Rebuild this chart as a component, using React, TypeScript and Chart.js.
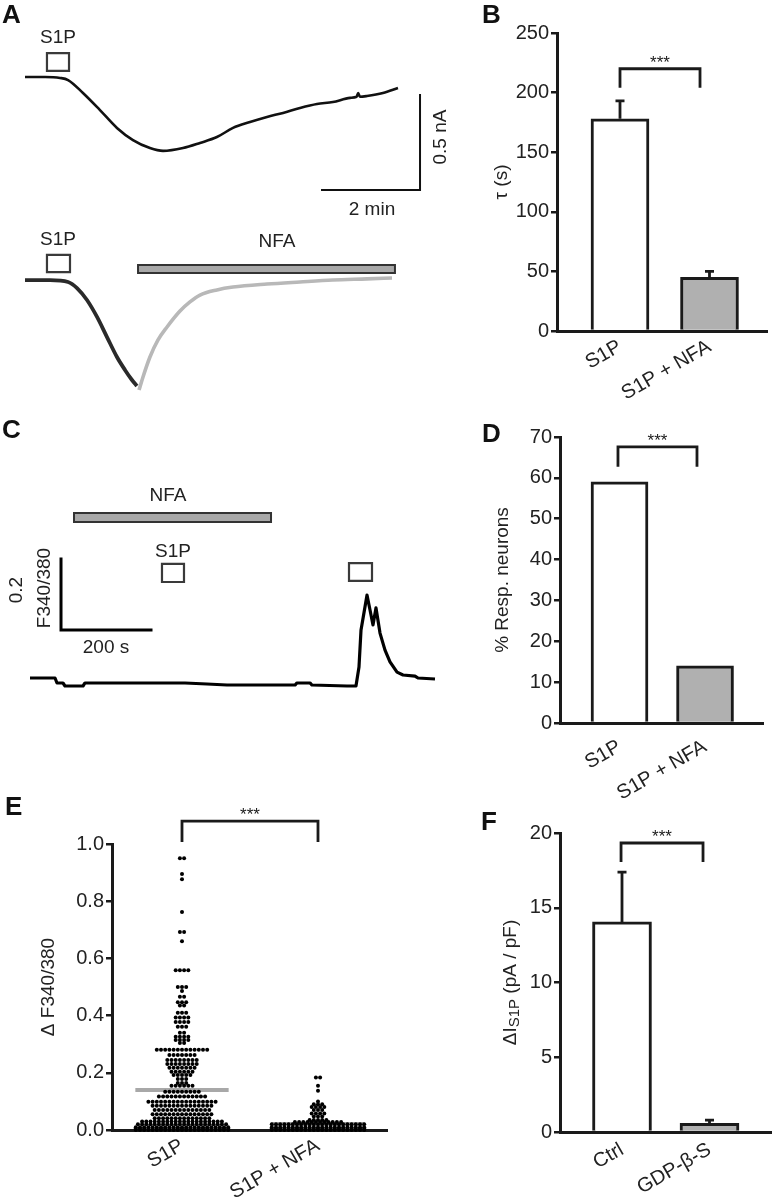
import React, { useEffect, useRef } from 'react';
import { Chart, registerables } from 'chart.js';

Chart.register(...registerables);

const FONT = '"Liberation Sans", Arial, Helvetica, sans-serif';
const INK = '#1a1a1a';
const TEXT = '#222222';
const GREY_FILL = '#b0b0b0';

// ---------------- Panel A : current traces (time s, current nA) ----------------
const aTopTime = [0, 24.5, 42.9, 52.7, 71, 91.8, 112.6, 132.2, 153, 169, 193.5, 214.3, 235, 254.7, 275.5, 296.3, 316, 336.7, 357.5, 377, 398, 406, 408, 410, 418.8, 438.3, 456.7];
const aTopCurrent = [0, 0, -0.005, -0.016, -0.084, -0.174, -0.268, -0.332, -0.374, -0.389, -0.374, -0.347, -0.316, -0.268, -0.237, -0.21, -0.189, -0.163, -0.142, -0.132, -0.11, -0.104, -0.085, -0.104, -0.1, -0.084, -0.058];
const aCtrlTime = [0, 30.6, 52.7, 63.7, 75.9, 88.2, 100.4, 112.6, 122.4, 131, 137.1];
const aCtrlCurrent = [0.005, 0.005, -0.005, -0.037, -0.1, -0.189, -0.295, -0.4, -0.468, -0.521, -0.553];
const aNfaTime = [139.6, 144.5, 153, 162.9, 173.9, 189.8, 202, 214.3, 235, 254.7, 296.3, 336.7, 377, 418.8, 449.4];
const aNfaCurrent = [-0.574, -0.505, -0.4, -0.31, -0.242, -0.158, -0.11, -0.074, -0.047, -0.032, -0.016, -0.005, 0.005, 0.011, 0.016];

// ---------------- Panel B : decay time constant ----------------
const bCategories = ['S1P', 'S1P + NFA'];
const bTau = [178, 45];
const bSem = [15, 5];

// ---------------- Panel C : Fura-2 ratio trace (time s, ratio change) ----------------
const cTime = [0, 55.6, 60, 73.3, 77.8, 117.8, 122.2, 200, 344.4, 393.3, 437.8, 588.9, 593.3, 622.2, 626.7, 704.4, 724.4, 731.1, 735.6, 748.9, 755.6, 762.2, 768.9, 777.8, 788.9, 800, 815.6, 828.9, 855.6, 862.2, 900];
const cRatio = [0.0225, 0.0225, 0.0085, 0.0085, 0, 0, 0.0085, 0.0085, 0.0085, 0.0056, 0.0028, 0.0028, 0.0085, 0.0085, 0.0028, 0, 0, 0.0535, 0.158, 0.256, 0.214, 0.172, 0.22, 0.149, 0.101, 0.068, 0.039, 0.031, 0.028, 0.0225, 0.0197];

// ---------------- Panel D : responding neurons ----------------
const dCategories = ['S1P', 'S1P + NFA'];
const dPercent = [59, 14];

// ---------------- Panel E : individual responses (value level, number of cells) ----------------
const eCategories = ['S1P', 'S1P + NFA'];
const eS1pLevels = [0.95, 0.895, 0.877, 0.762, 0.692, 0.66, 0.559, 0.5, 0.486, 0.466, 0.447, 0.435, 0.41, 0.393, 0.378, 0.361, 0.34, 0.326, 0.315, 0.304, 0.281, 0.262, 0.245, 0.231, 0.218, 0.204, 0.192, 0.178, 0.164, 0.155, 0.134, 0.117, 0.099, 0.085, 0.07, 0.055, 0.041, 0.03, 0.02, 0.01, 0.005, 0];
const eS1pCounts = [2, 1, 1, 1, 2, 1, 4, 3, 1, 2, 3, 2, 3, 4, 4, 3, 2, 4, 4, 2, 13, 7, 8, 8, 7, 6, 5, 3, 3, 6, 9, 12, 17, 15, 14, 15, 14, 20, 22, 23, 23, 23];
const eNfaLevels = [0.184, 0.155, 0.137, 0.1, 0.09, 0.08, 0.07, 0.058, 0.047, 0.035, 0.028, 0.02, 0.01, 0.005, 0];
const eNfaCounts = [2, 1, 1, 1, 3, 4, 3, 4, 3, 5, 12, 23, 23, 23, 23];
const eMeans = [0.14, 0.021];

// ---------------- Panel F : S1P current density ----------------
const fCategories = ['Ctrl', 'GDP-\u03B2-S'];
const fCurrent = [14.05, 0.58];
const fSem = [3.33, 0.22];

// ======================================================================
type Item =
  | { k: 'rect'; x: number[]; y: number[]; fill?: string; stroke: string; lw: number }
  | { k: 'path'; x: number[]; y: number[]; stroke: string; lw: number }
  | { k: 'text'; x: number; y: number; text: string; size: number; rot?: number };

function drawText(ctx: any, text: string, x: number, y: number, size: number, rot = 0, color = TEXT) {
  ctx.save();
  ctx.translate(x, y);
  if (rot) ctx.rotate((rot * Math.PI) / 180);
  ctx.font = `${size}px ${FONT}`;
  ctx.fillStyle = color;
  ctx.textAlign = 'center';
  ctx.textBaseline = 'middle';
  ctx.fillText(text, 0, 0);
  ctx.restore();
}

function marksPlugin(items: Item[]) {
  return {
    id: 'marks',
    afterDatasetsDraw(chart: any) {
      const { ctx } = chart;
      const sx = chart.scales.x;
      const sy = chart.scales.y;
      ctx.save();
      for (const it of items) {
        if (it.k === 'rect') {
          const x0 = sx.getPixelForValue(it.x[0]);
          const x1 = sx.getPixelForValue(it.x[1]);
          const y0 = sy.getPixelForValue(it.y[0]);
          const y1 = sy.getPixelForValue(it.y[1]);
          ctx.beginPath();
          ctx.rect(Math.min(x0, x1), Math.min(y0, y1), Math.abs(x1 - x0), Math.abs(y1 - y0));
          if (it.fill) {
            ctx.fillStyle = it.fill;
            ctx.fill();
          }
          ctx.lineWidth = it.lw;
          ctx.strokeStyle = it.stroke;
          ctx.stroke();
        } else if (it.k === 'path') {
          ctx.beginPath();
          it.x.forEach((v, i) => {
            const px = sx.getPixelForValue(v);
            const py = sy.getPixelForValue(it.y[i]);
            if (i === 0) ctx.moveTo(px, py);
            else ctx.lineTo(px, py);
          });
          ctx.lineWidth = it.lw;
          ctx.strokeStyle = it.stroke;
          ctx.lineCap = 'square';
          ctx.stroke();
        } else {
          drawText(ctx, it.text, sx.getPixelForValue(it.x), sy.getPixelForValue(it.y), it.size, it.rot || 0);
        }
      }
      ctx.restore();
    },
  };
}

const pts = (xs: number[], ys: number[]) => xs.map((x, i) => ({ x, y: ys[i] }));

function traceDataset(xs: number[], ys: number[], color: string, width: number, smooth: boolean) {
  return {
    data: pts(xs, ys),
    showLine: true,
    borderColor: color,
    borderWidth: width,
    pointRadius: 0,
    tension: 0,
    cubicInterpolationMode: smooth ? 'monotone' : 'default',
    borderJoinStyle: 'round',
    clip: false,
  };
}

function traceConfig(datasets: any[], xr: number[], yr: number[], items: Item[]) {
  return {
    type: 'scatter',
    data: { datasets },
    options: {
      responsive: false,
      animation: false,
      events: [],
      layout: { padding: 0 },
      plugins: { legend: { display: false }, tooltip: { enabled: false } },
      scales: {
        x: { type: 'linear', display: false, min: xr[0], max: xr[1], bounds: 'data' },
        y: { type: 'linear', display: false, min: yr[0], max: yr[1], bounds: 'data' },
      },
    },
    plugins: [marksPlugin(items)],
  };
}

function yAxis(min: number, max: number, step: number, width: number, title: string | null, titlePad: number, fmt?: (v: number) => string) {
  const ticks: any = { stepSize: step, font: { family: FONT, size: 20 }, color: TEXT, padding: 2 };
  if (fmt) ticks.callback = (v: any) => fmt(Number(v));
  return {
    type: 'linear',
    min,
    max,
    bounds: 'data',
    ticks,
    grid: { display: true, drawOnChartArea: false, drawTicks: true, tickLength: 6, color: INK, lineWidth: 2.5 },
    border: { display: true, color: INK, width: 3 },
    title: title
      ? { display: true, text: title, font: { family: FONT, size: 19 }, color: TEXT, padding: { top: titlePad, bottom: 0 } }
      : { display: false },
    afterFit: (s: any) => {
      s.width = width;
      s.paddingTop = 0;
      s.paddingBottom = 0;
    },
  };
}

function xAxis(min: number, max: number, cats: string[], height: number, pad: number) {
  return {
    type: 'linear',
    min,
    max,
    bounds: 'data',
    offset: false,
    afterBuildTicks: (s: any) => {
      s.ticks = cats.map((_, i) => ({ value: i }));
    },
    ticks: {
      callback: (v: any) => cats[Number(v)] ?? '',
      minRotation: 30,
      maxRotation: 30,
      autoSkip: false,
      font: { family: FONT, size: 20 },
      color: TEXT,
      padding: pad,
    },
    grid: { display: true, drawOnChartArea: false, drawTicks: false, color: 'rgba(0,0,0,0)', offset: false },
    border: { display: true, color: INK, width: 3 },
    afterFit: (s: any) => {
      s.height = height;
      s.paddingLeft = 0;
      s.paddingRight = 0;
    },
  };
}

function statPlugin(means: number[], sems: number[] | null, bracketX: number[], bracketY: number[]) {
  return {
    id: 'stats',
    afterDatasetsDraw(chart: any) {
      const { ctx } = chart;
      const sx = chart.scales.x;
      const sy = chart.scales.y;
      ctx.save();
      ctx.strokeStyle = INK;
      ctx.lineWidth = 2.8;
      if (sems) {
        sems.forEach((s, i) => {
          const px = sx.getPixelForValue(i);
          const y0 = sy.getPixelForValue(means[i]);
          const y1 = sy.getPixelForValue(means[i] + s);
          ctx.beginPath();
          ctx.moveTo(px, y0);
          ctx.lineTo(px, y1);
          ctx.moveTo(px - 4.5, y1);
          ctx.lineTo(px + 4.5, y1);
          ctx.stroke();
        });
      }
      const bx0 = sx.getPixelForValue(bracketX[0]);
      const bx1 = sx.getPixelForValue(bracketX[1]);
      const byLow = sy.getPixelForValue(bracketY[0]);
      const byTop = sy.getPixelForValue(bracketY[1]);
      ctx.beginPath();
      ctx.moveTo(bx0, byLow);
      ctx.lineTo(bx0, byTop);
      ctx.lineTo(bx1, byTop);
      ctx.lineTo(bx1, byLow);
      ctx.stroke();
      ctx.fillStyle = INK;
      ctx.font = `17px ${FONT}`;
      ctx.textAlign = 'center';
      ctx.textBaseline = 'alphabetic';
      ctx.fillText('***', (bx0 + bx1) / 2, byTop - 1);
      ctx.restore();
    },
  };
}

function barConfig(o: any) {
  return {
    type: 'bar',
    data: {
      datasets: [
        {
          data: o.values.map((v: number, i: number) => ({ x: i, y: v })),
          backgroundColor: ['#ffffff', GREY_FILL],
          borderColor: INK,
          borderWidth: 3,
          borderSkipped: 'start',
          barThickness: o.barW,
        },
      ],
    },
    options: {
      responsive: false,
      animation: false,
      events: [],
      layout: { padding: o.pad },
      plugins: { legend: { display: false }, tooltip: { enabled: false } },
      scales: {
        x: xAxis(o.xr[0], o.xr[1], o.cats, o.xH, o.labelPad),
        y: yAxis(o.yr[0], o.yr[1], o.step, o.yW, o.title, o.titlePad),
      },
    },
    plugins: [statPlugin(o.values, o.sems, o.bracketX, o.bracketY), ...(o.extra || [])],
  };
}

// beeswarm layout: each value level becomes a centred row of dots
const DOT_STEP = 4.2 / 136;
function swarm(center: number, levels: number[], counts: number[]) {
  const out: { x: number; y: number }[] = [];
  levels.forEach((lv, i) => {
    const n = counts[i];
    for (let j = 0; j < n; j++) out.push({ x: center + (j - (n - 1) / 2) * DOT_STEP, y: lv });
  });
  return out;
}

function swarmConfig() {
  const half = 0.343;
  return {
    type: 'scatter',
    data: {
      datasets: [
        { data: swarm(0, eS1pLevels, eS1pCounts), pointRadius: 2, backgroundColor: '#000', borderWidth: 0, clip: false },
        { data: swarm(1, eNfaLevels, eNfaCounts), pointRadius: 2, backgroundColor: '#000', borderWidth: 0, clip: false },
        ...eMeans.map((m, i) => ({
          data: [
            { x: i - half, y: m },
            { x: i + half, y: m },
          ],
          showLine: true,
          borderColor: '#a8a8a8',
          borderWidth: 4,
          pointRadius: 0,
          clip: false,
        })),
      ],
    },
    options: {
      responsive: false,
      animation: false,
      events: [],
      layout: { padding: { top: 54, right: 33, left: 0, bottom: 0 } },
      plugins: { legend: { display: false }, tooltip: { enabled: false } },
      scales: {
        x: xAxis(-0.5147, 1.5074, eCategories, 70, 4),
        y: yAxis(0, 1, 0.2, 112, '\u0394 F340/380', 37.6, (v) => v.toFixed(1)),
      },
    },
    plugins: [statPlugin(eMeans, null, [0, 1], [1.007, 1.08])],
  };
}

// custom y title with subscript for panel F
const fTitlePlugin = {
  id: 'fTitle',
  afterDraw(chart: any) {
    const { ctx, chartArea } = chart;
    const cy = (chartArea.top + chartArea.bottom) / 2;
    const cx = 91;
    const segs = [
      { t: '\u0394I', s: 19, dy: 0 },
      { t: 'S1P', s: 15, dy: 4 },
      { t: ' (pA / pF)', s: 19, dy: 0 },
    ];
    ctx.save();
    ctx.translate(cx, cy);
    ctx.rotate(-Math.PI / 2);
    ctx.fillStyle = TEXT;
    ctx.textBaseline = 'middle';
    ctx.textAlign = 'left';
    let total = 0;
    const widths = segs.map((g) => {
      ctx.font = `${g.s}px ${FONT}`;
      const w = ctx.measureText(g.t).width;
      total += w;
      return w;
    });
    let x = -total / 2;
    segs.forEach((g, i) => {
      ctx.font = `${g.s}px ${FONT}`;
      ctx.fillText(g.t, x, g.dy);
      x += widths[i];
    });
    ctx.restore();
  },
};

// ======================================================================
function ChartBox({ box, make }: { box: number[]; make: () => any }) {
  const ref = useRef<HTMLCanvasElement>(null);
  useEffect(() => {
    const chart = new Chart(ref.current as HTMLCanvasElement, make());
    return () => chart.destroy();
  }, []);
  const [l, t, w, h] = box;
  return (
    <canvas
      ref={ref}
      width={w}
      height={h}
      style={{ position: 'absolute', left: l, top: t, width: w, height: h }}
    />
  );
}

const A_X: number[] = [-30.61, 532.65];

const makeA1 = () =>
  traceConfig(
    [traceDataset(aTopTime, aTopCurrent, '#111', 2.6, true)],
    A_X,
    [-0.75263, 0.40526],
    [
      { k: 'text', x: 40.4, y: 0.205, text: 'S1P', size: 19 },
      { k: 'rect', x: [26.9, 53.9], y: [0.032, 0.126], stroke: '#3a3a3a', lw: 2.2 },
      { k: 'path', x: [363.7, 483.7, 483.7], y: [-0.5947, -0.5947, -0.0947], stroke: '#111', lw: 2 },
      { k: 'text', x: 424.9, y: -0.7, text: '2 min', size: 19 },
      { k: 'text', x: 509.4, y: -0.316, text: '0.5 nA', size: 19, rot: -90 },
    ]
  );

const makeA2 = () =>
  traceConfig(
    [
      traceDataset(aCtrlTime, aCtrlCurrent, '#2a2a2a', 3.8, true),
      traceDataset(aNfaTime, aNfaCurrent, '#b8b8b8', 3.6, true),
    ],
    A_X,
    [-0.67895, 0.32105],
    [
      { k: 'text', x: 40.4, y: 0.216, text: 'S1P', size: 19 },
      { k: 'rect', x: [26.9, 55.1], y: [0.047, 0.137], stroke: '#3a3a3a', lw: 2.2 },
      { k: 'rect', x: [138.4, 453], y: [0.042, 0.084], fill: '#a8a8a8', stroke: '#333', lw: 2 },
      { k: 'text', x: 308.6, y: 0.205, text: 'NFA', size: 19 },
    ]
  );

const makeC = () =>
  traceConfig(
    [traceDataset(cTime, cRatio, '#000', 3.2, false)],
    [-66.67, 955.56],
    [-0.12394, 0.80563],
    [
      { k: 'text', x: 306.7, y: 0.535, text: 'NFA', size: 19 },
      { k: 'rect', x: [97.8, 535.6], y: [0.462, 0.487], fill: '#a8a8a8', stroke: '#333', lw: 2 },
      { k: 'text', x: 317.8, y: 0.377, text: 'S1P', size: 19 },
      { k: 'rect', x: [293.3, 342.2], y: [0.293, 0.344], stroke: '#3a3a3a', lw: 2.2 },
      { k: 'rect', x: [708.9, 760], y: [0.296, 0.346], stroke: '#3a3a3a', lw: 2.2 },
      { k: 'path', x: [68.9, 68.9, 268.9], y: [0.358, 0.158, 0.158], stroke: '#000', lw: 3 },
      { k: 'text', x: 168.9, y: 0.107, text: '200 s', size: 19 },
      { k: 'text', x: -28.9, y: 0.27, text: '0.2', size: 19, rot: -90 },
      { k: 'text', x: 33.3, y: 0.276, text: 'F340/380', size: 19, rot: -90 },
    ]
  );

const makeB = () =>
  barConfig({
    values: bTau,
    sems: bSem,
    cats: bCategories,
    barW: 58,
    pad: { top: 33, right: 9, left: 0, bottom: 0 },
    xr: [-0.7039, 1.6425],
    xH: 89,
    labelPad: 4,
    yr: [0, 250],
    step: 50,
    yW: 137,
    title: '\u03C4 (s)',
    titlePad: 70,
    bracketX: [0, 0.894],
    bracketY: [204, 220],
  });

const makeD = () =>
  barConfig({
    values: dPercent,
    sems: null,
    cats: dCategories,
    barW: 57,
    pad: { top: 27, right: 13, left: 0, bottom: 0 },
    xr: [-0.696, 1.678],
    xH: 77,
    labelPad: 12,
    yr: [0, 70],
    step: 10,
    yW: 140,
    title: '% Resp. neurons',
    titlePad: 71,
    bracketX: [-0.018, 0.906],
    bracketY: [62.7, 67.6],
  });

const makeF = () =>
  barConfig({
    values: fCurrent,
    sems: fSem,
    cats: fCategories,
    barW: 59,
    pad: { top: 33, right: 5, left: 0, bottom: 0 },
    xr: [-0.7086, 1.7029],
    xH: 68,
    labelPad: 6,
    yr: [0, 20],
    step: 5,
    yW: 140,
    title: null,
    titlePad: 0,
    bracketX: [-0.011, 0.926],
    bracketY: [18.06, 19.33],
    extra: [fTitlePlugin],
  });

const letters = [
  { t: 'A', l: 2, top: 1 },
  { t: 'B', l: 482, top: 1 },
  { t: 'C', l: 2, top: 416 },
  { t: 'D', l: 482, top: 420 },
  { t: 'E', l: 5, top: 793 },
  { t: 'F', l: 481, top: 808 },
];

export default function App() {
  return (
    <div style={{ position: 'absolute', left: 0, top: 0, width: 776, height: 1200, background: '#fff', overflow: 'hidden' }}>
      <ChartBox box={[0, 0, 460, 220]} make={makeA1} />
      <ChartBox box={[0, 220, 460, 190]} make={makeA2} />
      <ChartBox box={[0, 400, 460, 330]} make={makeC} />
      <ChartBox box={[0, 790, 420, 410]} make={swarmConfig} />
      <ChartBox box={[420, 0, 356, 420]} make={makeB} />
      <ChartBox box={[420, 410, 356, 390]} make={makeD} />
      <ChartBox box={[420, 800, 356, 400]} make={makeF} />
      {letters.map((g) => (
        <div
          key={g.t}
          style={{
            position: 'absolute',
            left: g.l,
            top: g.top,
            fontFamily: FONT,
            fontWeight: 'bold',
            fontSize: 26,
            lineHeight: '26px',
            color: '#111',
          }}
        >
          {g.t}
        </div>
      ))}
    </div>
  );
}
